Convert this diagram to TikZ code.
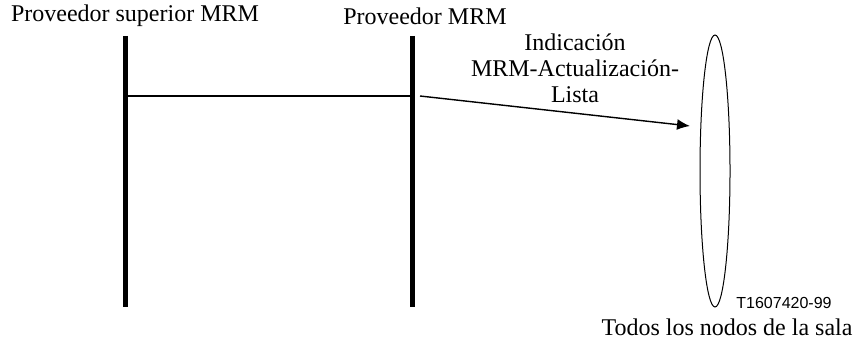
\documentclass[tikz,border=0pt]{standalone}
\usepackage{fontspec}
\setmainfont{Liberation Serif}
\newfontfamily\tagfont{Liberation Sans}
\usetikzlibrary{arrows.meta,shapes}
\tikzstyle{lbl} = [inner sep=0pt, font=\fontsize{12}{13}\selectfont, align=center]
\tikzstyle{lifeline} = [line width=2.5pt]
\tikzstyle{msg} = [line width=1pt]
\tikzstyle{grp} = [ellipse, draw, line width=0.5pt, minimum width=15pt,
    minimum height=136pt, inner sep=0pt]

\begin{document}
\begin{tikzpicture}[x=0.5pt,y=-0.5pt,>={Latex[length=6.5pt,width=5.5pt]}]
  \useasboundingbox (0,0) rectangle (854,340);
  \node[lbl] (sup) at (135,16) {Proveedor superior MRM};
  \node[lbl] (prov) at (425,16) {Proveedor MRM};
  \node[lbl] (ind) at (575,68) {Indicación\\MRM-Actualización-\\Lista};
  \node[grp] (todos) at (715,171) {};
  \node[lbl] (todosl) at (727,327) {Todos los nodos de la sala};
  \node[inner sep=0pt,font=\tagfont\fontsize{8}{9}\selectfont] (tag) at (784,303) {T1607420-99};

  \coordinate (sup1) at (125,36);
  \coordinate (sup2) at (125,307);
  \coordinate (prov1) at (412,36);
  \coordinate (prov2) at (412,307);
  \coordinate (supm) at (125,96);
  \coordinate (provm) at (412,96);
  \coordinate (msgs) at (420,96);
  \coordinate (msge) at (690,126);

  \draw[lifeline] (sup1) -- (sup2);
  \draw[lifeline] (prov1) -- (prov2);
  \draw[msg] (supm) -- (provm);
  \draw[->,line width=0.7pt] (msgs) -- (msge);
\end{tikzpicture}
\end{document}
